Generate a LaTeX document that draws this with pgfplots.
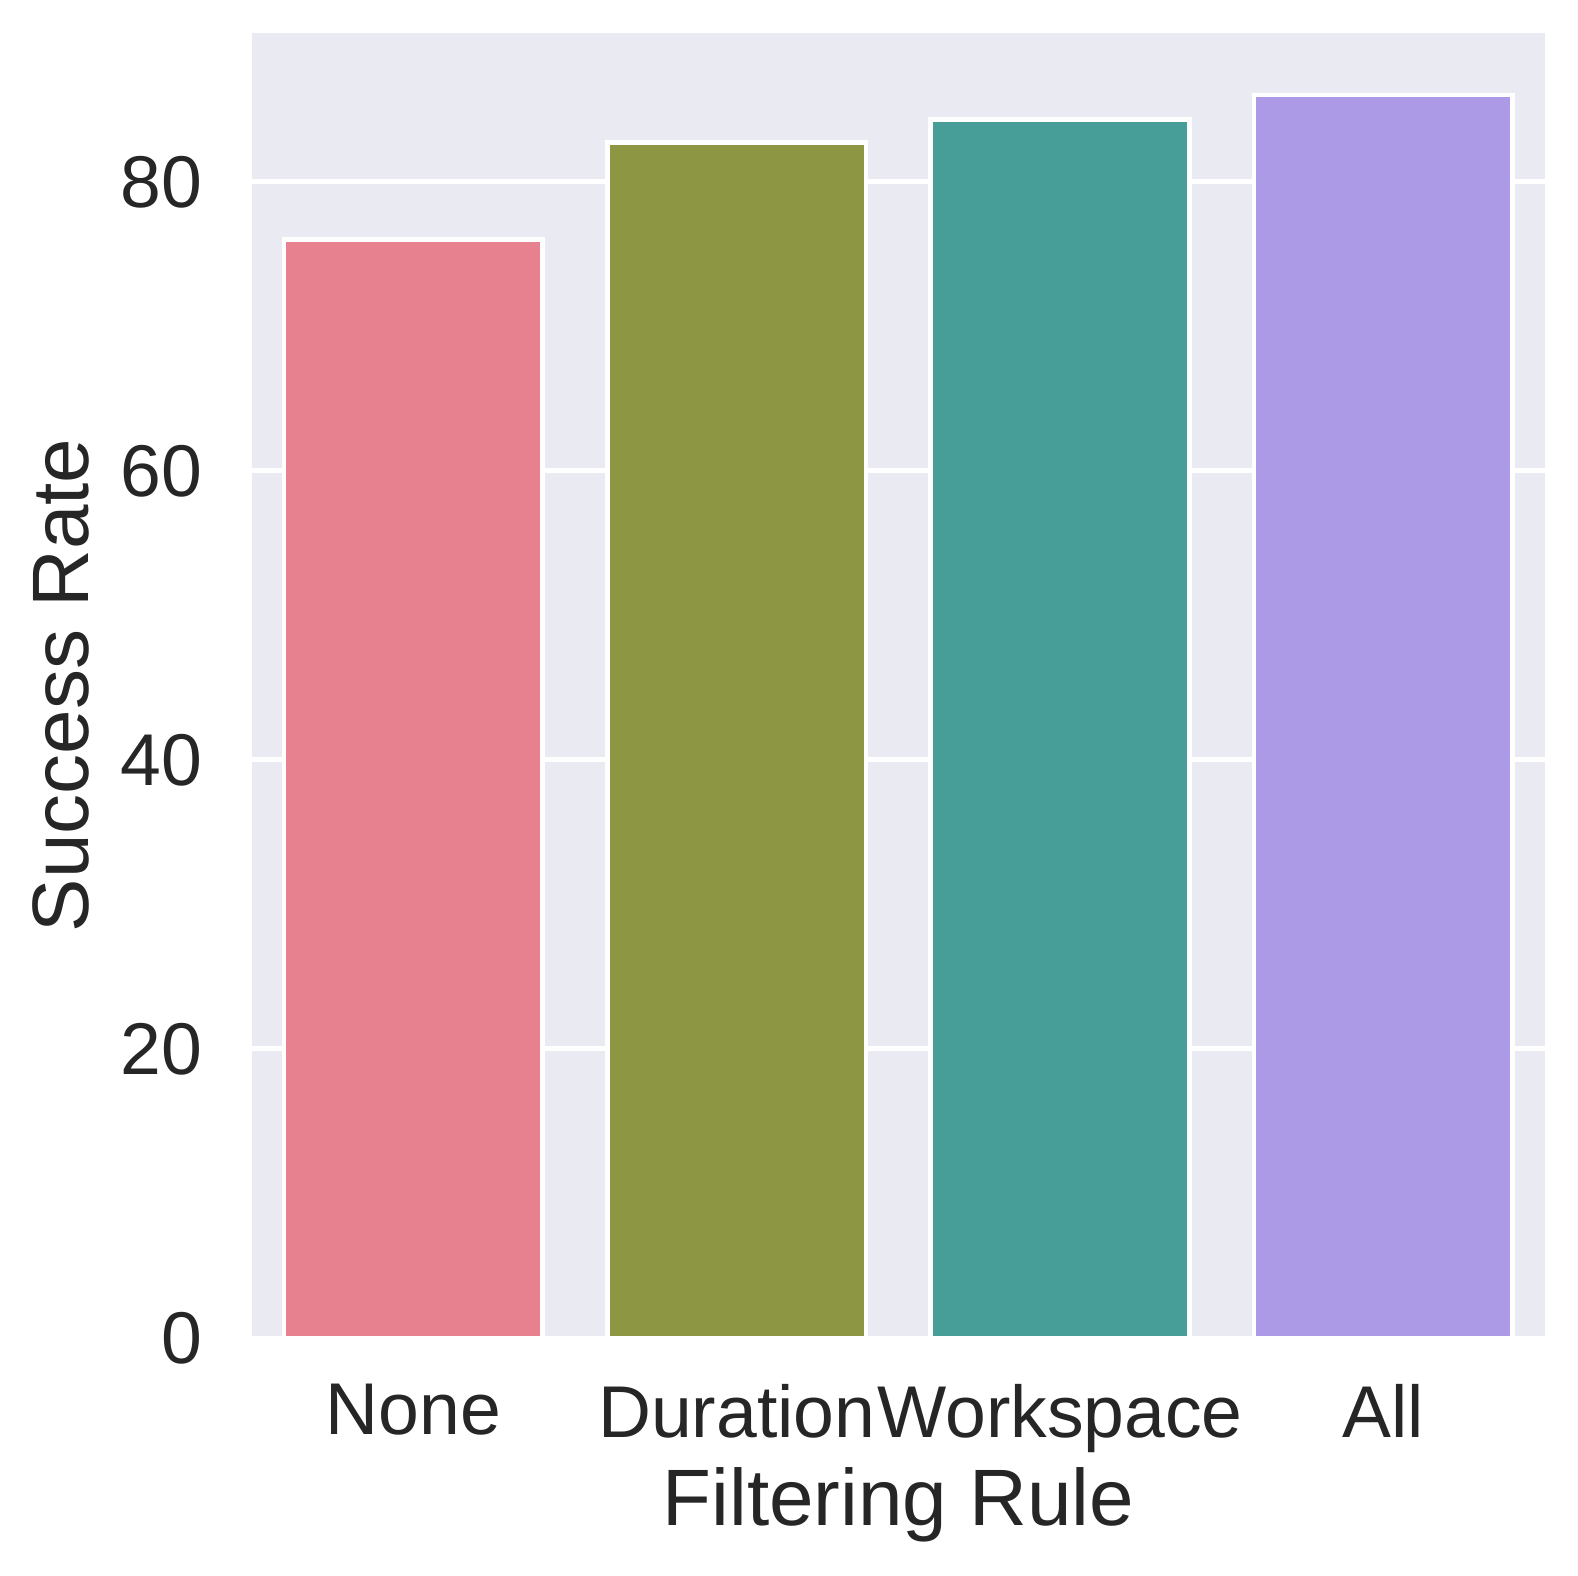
\documentclass[border=0pt]{standalone}
\usepackage{fontspec}
\setmainfont{Liberation Sans}
\usepackage{pgfplots}
\pgfplotsset{compat=1.18}
\definecolor{bgc}{HTML}{EAEAF2}
\definecolor{txt}{HTML}{262626}
\definecolor{cnone}{HTML}{E7808F}
\definecolor{cdur}{HTML}{8C9643}
\definecolor{cwork}{HTML}{479E98}
\definecolor{call}{HTML}{AC9AE6}
\begin{document}
\begin{tikzpicture}
\begin{axis}[
    scale only axis,
    width=310.4pt, height=313.2pt,
    xmin=-0.5, xmax=3.5,
    ymin=0, ymax=90.3,
    axis background/.style={fill=bgc},
    axis line style={draw=none},
    ymajorgrids,
    grid style={white, line width=1.2pt},
    major tick length=0pt,
    xtick={0,1,2,3},
    xticklabels={None,Duration,Workspace,All},
    ytick={0,20,40,60,80},
    /pgf/number format/assume math mode=true,
    tick label style={font=\fontsize{17.6}{20}\selectfont, text=txt},
    yticklabel style={xshift=-8.4pt},
    xticklabel style={yshift=-7.6pt},
    label style={font=\fontsize{19.2}{22}\selectfont, text=txt},
    xlabel={Filtering Rule},
    xlabel style={yshift=3.4pt},
    ylabel={Success Rate},
    ylabel style={yshift=0.5pt},
    ybar, bar width=0.8, bar shift=0pt,
    every axis plot/.append style={draw=white, line width=1.1pt},
    clip=false,
]
\addplot[fill=cnone] coordinates {(0,76.0)};
\addplot[fill=cdur]  coordinates {(1,82.7)};
\addplot[fill=cwork] coordinates {(2,84.3)};
\addplot[fill=call]  coordinates {(3,86.0)};
\end{axis}
\path (current axis.north east) ++(7.9pt,7.9pt);
\path (current axis.south west) ++(-60.4pt,-56.9pt);
\end{tikzpicture}
\end{document}
